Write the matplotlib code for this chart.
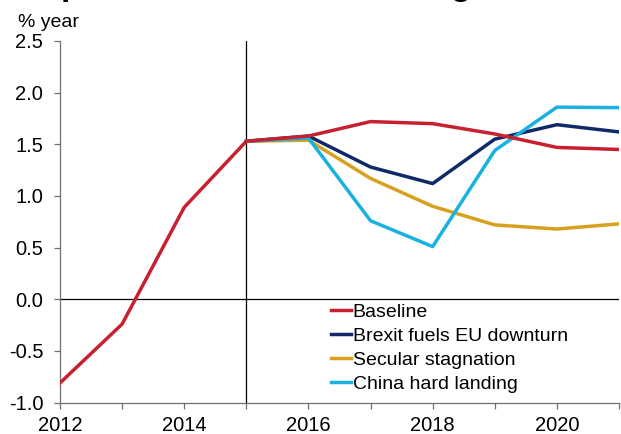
import matplotlib
matplotlib.use("Agg")
import matplotlib.pyplot as plt

plt.rcParams["font.family"] = ["Liberation Sans", "DejaVu Sans"]

years = [2012, 2013, 2014, 2015, 2016, 2017, 2018, 2019, 2020, 2021]
scen_years = [2015, 2016, 2017, 2018, 2019, 2020, 2021]

baseline = [-0.81, -0.24, 0.89, 1.53, 1.58, 1.72, 1.70, 1.60, 1.47, 1.45]
brexit = [1.53, 1.58, 1.28, 1.12, 1.55, 1.69, 1.62]
secular = [1.53, 1.54, 1.17, 0.90, 0.72, 0.68, 0.73]
china = [1.53, 1.56, 0.76, 0.51, 1.44, 1.86, 1.855]

labels = ["Baseline", "Brexit fuels EU downturn", "Secular stagnation", "China hard landing"]
colors = ["#C7202E", "#0F2A66", "#D6A21E", "#18B1E0"]

fig = plt.figure(figsize=(6.21, 4.34), dpi=100)
ax = fig.add_axes([60 / 621, 1 - 402.6 / 434, 559 / 621, 361.6 / 434])

lw = 2.5
ax.plot(years, baseline, color=colors[0], lw=lw, label=labels[0], zorder=4)
ax.plot(scen_years, brexit, color=colors[1], lw=lw, label=labels[1], zorder=3)
ax.plot(scen_years, secular, color=colors[2], lw=lw, label=labels[2], zorder=2)
ax.plot(scen_years, china, color=colors[3], lw=lw, label=labels[3], zorder=3)

# forecast start marker and zero line
ax.axvline(2015, color="black", lw=0.9, zorder=1)
ax.axhline(0, color="black", lw=0.9, zorder=1)

ax.set_xlim(2012, 2021)
ax.set_ylim(-1.0, 2.5)
ax.set_xticks(range(2012, 2022))
ax.set_xticklabels([str(y) if y % 2 == 0 else "" for y in range(2012, 2022)])
ax.set_yticks([-1.0, -0.5, 0.0, 0.5, 1.0, 1.5, 2.0, 2.5])
ax.set_yticklabels(["%.1f" % v for v in ax.get_yticks()])

for s in ["top", "right"]:
    ax.spines[s].set_visible(False)
for s in ["left", "bottom"]:
    ax.spines[s].set_color("#707070")
    ax.spines[s].set_linewidth(0.9)
ax.tick_params(axis="both", direction="out", length=4, width=0.9,
               color="#707070", labelsize=14.5)
ax.tick_params(axis="x", pad=6)
ax.tick_params(axis="y", pad=8)

leg = ax.legend(loc="upper left", bbox_to_anchor=(0.471, 0.297), frameon=False,
                fontsize=14, handlelength=1.0, handletextpad=0.12,
                labelspacing=0.33, borderaxespad=0)

fig.text(18 / 621, 1 - 27 / 434, "% year", fontsize=14, ha="left", va="baseline")
fig.text(22 / 621, 1 + 5 / 434, "Impact of scenarios on EU growth",
         fontsize=24, fontweight="bold", ha="left", va="baseline")

fig.savefig("out.png", dpi=100)
